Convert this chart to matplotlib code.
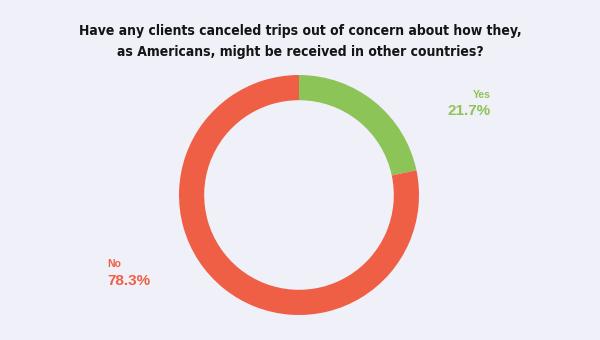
import matplotlib
matplotlib.use("Agg")
import matplotlib.pyplot as plt

# Survey answers
labels = ["Yes", "No"]
values = [21.7, 78.3]
colors = ["#8DC457", "#EF5F45"]
title = ("Have any clients canceled trips out of concern about how they,\n"
         "as Americans, might be received in other countries?")

bg = "#F0F0F8"
fig = plt.figure(figsize=(6, 3.4), dpi=100, facecolor=bg)

# donut centred at (299, 195) px, outer radius 120 px
W, H = 600, 340
cx, cy, r = 299, 195, 120
ax = fig.add_axes([(cx - r) / W, (H - cy - r) / H, 2 * r / W, 2 * r / H])
ax.set_facecolor(bg)
ax.pie(values, colors=colors, startangle=90, counterclock=False,
       radius=1, wedgeprops=dict(width=0.21, edgecolor="none"))
ax.set_xlim(-1, 1)
ax.set_ylim(-1, 1)
ax.set_aspect("equal")
ax.axis("off")

fig.text(0.5, 1 - 41.5 / H, title, ha="center", va="center",
         family="DejaVu Sans", stretch="condensed", weight="bold",
         fontsize=10, color="#151515", linespacing=1.65)

# Yes label (right side)
fig.text(491 / W, 1 - 95 / H, labels[0], ha="right", va="center",
         color=colors[0], weight="bold", fontsize=7.5, family="Liberation Sans")
fig.text(491 / W, 1 - 111 / H, f"{values[0]}%", ha="right", va="center",
         color=colors[0], weight="bold", fontsize=11, family="Liberation Sans")

# No label (left side)
fig.text(107 / W, 1 - 264 / H, labels[1], ha="left", va="center",
         color=colors[1], weight="bold", fontsize=7.5, family="Liberation Sans")
fig.text(107 / W, 1 - 281 / H, f"{values[1]}%", ha="left", va="center",
         color=colors[1], weight="bold", fontsize=11, family="Liberation Sans")

fig.savefig("out.png", dpi=100, facecolor=bg)
